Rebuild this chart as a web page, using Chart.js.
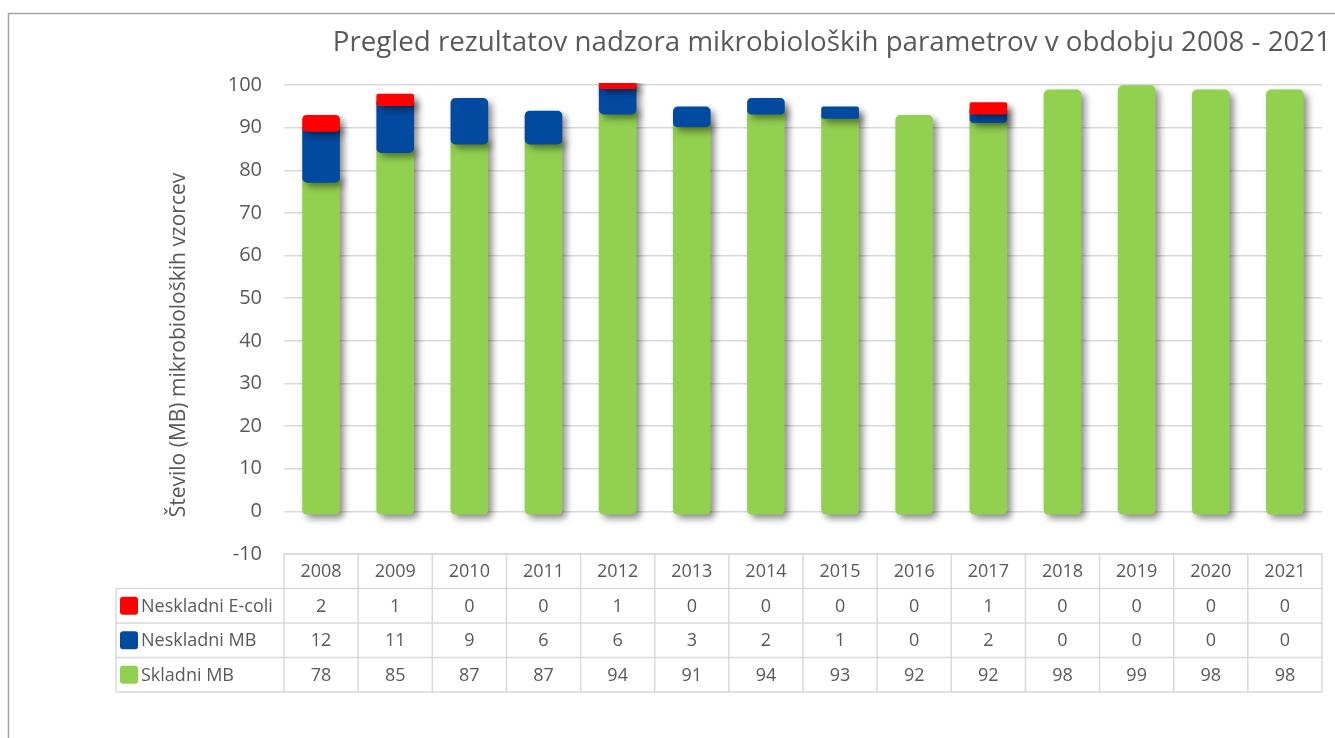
<!DOCTYPE html>
<html>
<head>
<meta charset="utf-8">
<script src="https://cdn.jsdelivr.net/npm/chart.js@4.4.0/dist/chart.umd.min.js"></script>
<style>
html,body{margin:0;padding:0;background:#fff;}
#wrap{width:1335px;height:738px;position:relative;}
</style>
</head>
<body>
<div id="wrap"><canvas id="c" width="1335" height="738"></canvas></div>
<script>
const years = ['2008','2009','2010','2011','2012','2013','2014','2015','2016','2017','2018','2019','2020','2021'];
const skladniMB = [78,85,87,87,94,91,94,93,92,92,98,99,98,98];
const neskladniMB = [12,11,9,6,6,3,2,1,0,2,0,0,0,0];
const neskladniEcoli = [2,1,0,0,1,0,0,0,0,1,0,0,0,0];
const seriesNames = ['Skladni MB','Neskladni MB','Neskladni E-coli'];
const seriesColors = ['#92D050','#024AA0','#FF0000'];
const yTicks = [-10,0,10,20,30,40,50,60,70,80,90,100];
const chartTitle = 'Pregled rezultatov nadzora mikrobioloških parametrov v obdobju 2008 - 2021';
const yTitle = 'Število (MB) mikrobioloških vzorcev';

const FONT = '"Open Sans", sans-serif';
const TXT = '#595959';
const GRID = '#d9d9d9';

// floating segments built from the series arrays (stacked by hand so that upper segments draw on top)
const greenSeg = skladniMB.map(v => v ? [0, v] : null);
const blueSeg = neskladniMB.map((v, i) => v ? [skladniMB[i], skladniMB[i] + v] : null);
const redSeg = neskladniEcoli.map((v, i) => v ? [skladniMB[i] + neskladniMB[i], skladniMB[i] + neskladniMB[i] + v] : null);

const shadowPlugin = {
  id: 'shadow',
  beforeDatasetsDraw(chart){
    const ctx = chart.ctx;
    ctx.save();
    ctx.shadowColor = 'rgba(0,0,0,0.45)';
    ctx.shadowBlur = 7;
    ctx.shadowOffsetX = 4;
    ctx.shadowOffsetY = 4;
  },
  afterDatasetsDraw(chart){
    chart.ctx.restore();
  }
};

const decorPlugin = {
  id: 'decor',
  afterDraw(chart){
    const ctx = chart.ctx;
    const x = chart.scales.x;
    const ca = chart.chartArea;
    ctx.save();
    // outer border
    ctx.strokeStyle = '#a6a6a6';
    ctx.lineWidth = 1.5;
    ctx.beginPath();
    ctx.moveTo(8.5, 760);
    ctx.lineTo(8.5, 13.5);
    ctx.lineTo(1400, 13.5);
    ctx.stroke();

    // chart title
    ctx.fillStyle = TXT;
    ctx.font = '27.7px ' + FONT;
    ctx.textAlign = 'right';
    ctx.textBaseline = 'middle';
    ctx.fillText(chartTitle, 1331, 43);

    // y axis title
    ctx.save();
    ctx.translate(179, 345);
    ctx.rotate(-Math.PI/2);
    ctx.textAlign = 'center';
    ctx.font = '21px ' + FONT;
    ctx.fillText(yTitle, 0, 0);
    ctx.restore();

    // data table
    const n = years.length;
    const cw = (ca.right - ca.left) / n;
    const top = ca.bottom;
    const rowH = 34.5;
    const legLeft = 116;
    const rows = [
      {name: seriesNames[2], color: seriesColors[2], vals: neskladniEcoli},
      {name: seriesNames[1], color: seriesColors[1], vals: neskladniMB},
      {name: seriesNames[0], color: seriesColors[0], vals: skladniMB}
    ];
    ctx.strokeStyle = GRID;
    ctx.lineWidth = 1.5;
    ctx.beginPath();
    ctx.moveTo(ca.left, top); ctx.lineTo(ca.right, top);
    for (let r = 1; r <= rows.length + 1; r++) {
      ctx.moveTo(legLeft, top + rowH*r); ctx.lineTo(ca.right, top + rowH*r);
    }
    for (let i = 0; i <= n; i++) {
      const xx = ca.left + cw*i;
      ctx.moveTo(xx, top); ctx.lineTo(xx, top + rowH*(rows.length+1));
    }
    ctx.moveTo(legLeft, top + rowH); ctx.lineTo(legLeft, top + rowH*(rows.length+1));
    ctx.stroke();

    ctx.fillStyle = TXT;
    ctx.font = '18px ' + FONT;
    ctx.textAlign = 'center';
    ctx.textBaseline = 'middle';
    for (let i = 0; i < n; i++) {
      const cx = x.getPixelForValue(i);
      ctx.fillText(years[i], cx, top + rowH/2 + 1);
      rows.forEach((row, r) => {
        ctx.fillText(String(row.vals[i]), cx, top + rowH*(r+1) + rowH/2 + 1);
      });
    }
    rows.forEach((row, r) => {
      const cy = top + rowH*(r+1) + rowH/2;
      ctx.fillStyle = row.color;
      ctx.beginPath();
      if (ctx.roundRect) ctx.roundRect(120, cy - 9, 18, 18, 3); else ctx.rect(120, cy-9, 18, 18);
      ctx.fill();
      ctx.fillStyle = TXT;
      ctx.textAlign = 'left';
      ctx.fillText(row.name, 141, cy + 1);
    });
    ctx.restore();
  }
};

const radius = 5;
const clipOpt = {left: 10, top: 2, right: 10, bottom: 10};
const common = {borderRadius: radius, borderSkipped: false, inflateAmount: 4, clip: clipOpt};

new Chart(document.getElementById('c'), {
  type: 'bar',
  data: {
    labels: years,
    datasets: [
      Object.assign({label: seriesNames[0], data: greenSeg, backgroundColor: seriesColors[0], order: 2}, common),
      Object.assign({label: seriesNames[1], data: blueSeg, backgroundColor: seriesColors[1], order: 1}, common),
      Object.assign({label: seriesNames[2], data: redSeg, backgroundColor: seriesColors[2], order: 0}, common)
    ]
  },
  options: {
    responsive: false,
    animation: false,
    devicePixelRatio: 1,
    layout: {padding: {top: 85, bottom: 184, right: 13, left: 0}},
    datasets: {bar: {categoryPercentage: 1, barPercentage: 0.40, grouped: false}},
    plugins: {legend: {display: false}, title: {display: false}, tooltip: {enabled: false}},
    scales: {
      x: {display: false},
      y: {
        min: -10, max: 100,
        afterFit(scale){ scale.width = 284; },
        afterBuildTicks(scale){ scale.ticks = yTicks.map(v => ({value: v})); },
        border: {display: false},
        grid: {color: GRID, lineWidth: 1.5, drawTicks: false},
        ticks: {color: TXT, font: {family: FONT, size: 20}, padding: 22}
      }
    }
  },
  plugins: [shadowPlugin, decorPlugin]
});
</script>
</body>
</html>
